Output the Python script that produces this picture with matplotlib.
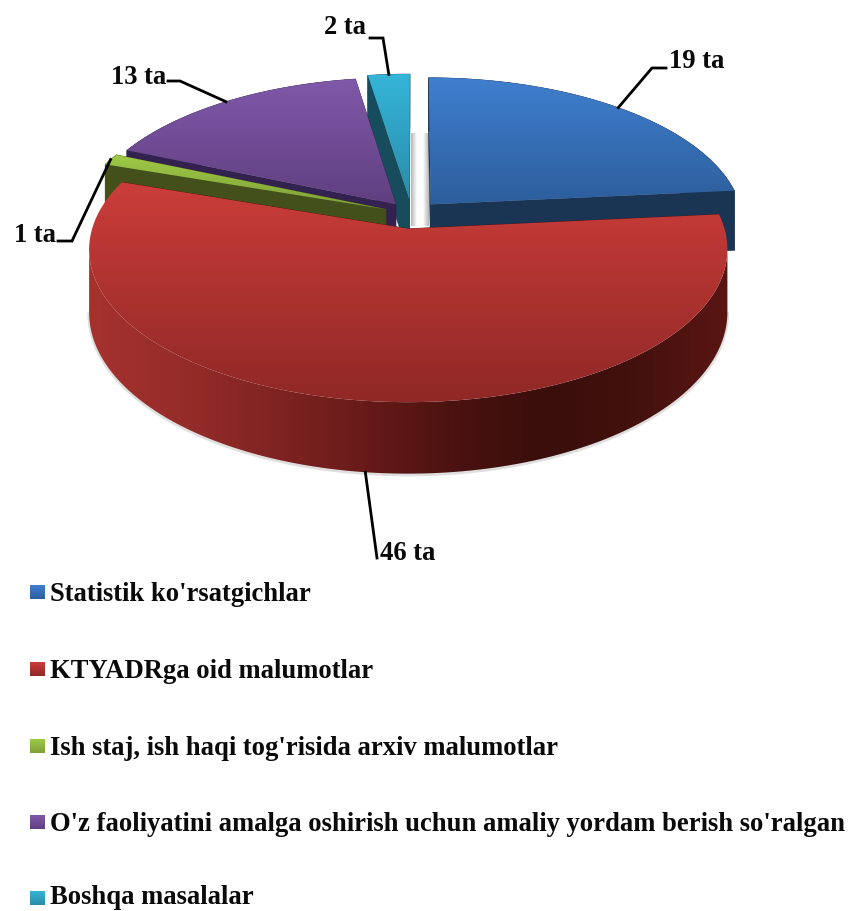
import numpy as np
import matplotlib
matplotlib.use("Agg")
import matplotlib.pyplot as plt
from matplotlib.patches import Polygon
from matplotlib.colors import LinearSegmentedColormap

# chart data
categories = ["Statistik ko'rsatgichlar", "KTYADRga oid malumotlar",
              "Ish staj, ish haqi tog'risida arxiv malumotlar",
              "O'z faoliyatini amalga oshirish uchun amaliy yordam berish so'ralgan",
              "Boshqa masalalar"]
values = [19, 46, 1, 13, 2]
value_labels = ["19 ta", "46 ta", "1 ta", "13 ta", "2 ta"]

# colours per slice
top_light = ["#3f7fcf", "#cb3d3a", "#9fca47", "#8059aa", "#35b5d9"]
top_dark = ["#2d5e9c", "#8f2826", "#7f9f38", "#5f3f80", "#2a8ca8"]
wall_col = ["#1a3454", "#4a1311", "#43501c", "#33214f", "#164c5c"]
red_rim = ["#a5322f", "#962c2a", "#802422", "#681b19", "#4a1210", "#3a0e0b", "#43110e", "#5a1613"]

# look of the 3d pie, in pixels
cx, cy = 412, 214
R, Rt = 312, 146
depth = 61
persp = 7.48
explode = [0.09, 0.1, 0.09, 0.085, 0.1]

# leader lines: elbow points and label position for each slice
leader_mid = [(652, 68), (377, 558), (72, 241), (180, 81), (383, 38)]
leader_end = [(666, 68), (377, 558), (58, 241), (168, 81), (370, 38)]
label_pos = [(669, 60), (380, 552), (14, 233), (111, 75), (324, 25)]

legend_y = [593, 670, 747, 823, 899]
legend_text_y = [594.5, 671.5, 748.5, 824.5, 898]

fig = plt.figure(figsize=(8.48, 9.11), dpi=100)
ax = fig.add_axes([0, 0, 1, 1])
ax.axis("off")

serif = {"family": "Liberation Serif", "weight": "bold", "color": "#0a0a0a"}
z = [1]


def next_z():
    z[0] += 1
    return z[0]


def project(ang, r, off, drop=0.0):
    # ang in degrees clockwise from 12 o'clock, disk x to the right and zz to the viewer
    a = np.radians(ang)
    x = r * np.sin(a) + off[0]
    zz = -r * np.cos(a) + off[1]
    s = persp / (persp - zz)
    return np.column_stack([cx + R * x * s, cy + Rt * zz * s + depth * drop * s])


def gradient_fill(pts, stops, horizontal=False):
    x0, y0 = pts.min(axis=0)
    x1, y1 = pts.max(axis=0)
    cmap = LinearSegmentedColormap.from_list("fill", stops)
    img = cmap(np.linspace(0, 1, 256))[:, :3]
    img = img[None, :, :] if horizontal else img[:, None, :]
    im = ax.imshow(img, extent=(x0, x1, y1, y0), aspect="auto", interpolation="bilinear", zorder=next_z())
    im.set_clip_path(Polygon(pts, closed=True, transform=ax.transData))


def flat(pts, col):
    ax.add_patch(Polygon(pts, closed=True, fc=col, ec=col, lw=0.4, zorder=next_z()))


total = sum(values)
edges = np.concatenate([[0], np.cumsum(values)]) * 360.0 / total
mids = (edges[:-1] + edges[1:]) / 2
offsets = [(e * np.sin(np.radians(m)), -e * np.cos(np.radians(m))) for e, m in zip(explode, mids)]

# soft shadow in the gap between the slices
gradient_fill(np.array([[411, 133], [417, 133], [417, 226], [411, 226]], float), ["#b5b5b5", "#ffffff"], True)
gradient_fill(np.array([[423, 133], [429, 133], [429, 226], [423, 226]], float), ["#ffffff", "#b5b5b5"], True)

# back slices first, the big red one goes on top
for i in [0, 4, 3, 2, 1]:
    off = offsets[i]
    angs = np.linspace(edges[i], edges[i + 1], 200)
    apex_t = project(0, 0, off)
    apex_b = project(0, 0, off, 1)
    rim_t = project(angs, 1, off)
    rim_b = project(angs, 1, off, 1)

    # rim wall, for the red slice only the part between its left and right extremes shows
    if i == 1:
        lo, hi = np.argmax(rim_t[:, 0]), np.argmin(rim_t[:, 0]) + 1
        rim_poly = np.vstack([rim_t[lo:hi], rim_b[lo:hi][::-1]])
        ax.plot(rim_b[lo:hi, 0], rim_b[lo:hi, 1] + 1, color="#808080", lw=2.5, alpha=0.25, zorder=next_z())
        gradient_fill(rim_poly, red_rim, True)
    else:
        flat(np.vstack([rim_t, rim_b[::-1]]), wall_col[i])

    # radial walls, the one closer to the viewer last
    faces = [(0, edges[i]), (-1, edges[i + 1])]
    faces.sort(key=lambda f: -np.cos(np.radians(f[1])))
    for idx, _ in faces:
        flat(np.array([apex_t[0], rim_t[idx], rim_b[idx], apex_b[0]]), wall_col[i])

    # top face
    top = np.vstack([apex_t, rim_t])
    gradient_fill(top, [top_light[i], top_dark[i]])

# leader lines and value labels
for i in range(len(values)):
    off = offsets[i]
    drop = 1 if i == 1 else 0
    start = project(mids[i], 1, off, drop)[0]
    ax.plot([start[0], leader_mid[i][0], leader_end[i][0]],
            [start[1], leader_mid[i][1], leader_end[i][1]],
            color="black", lw=2.0, solid_joinstyle="miter", zorder=next_z())
    ax.text(label_pos[i][0], label_pos[i][1] + 2, value_labels[i], fontsize=19.2, va="center", ha="left",
            zorder=next_z(), **serif)

# legend
for i, name in enumerate(categories):
    y = legend_y[i]
    box = np.array([[30, y - 8], [45, y - 8], [45, y + 6], [30, y + 6]], float)
    gradient_fill(box, [top_light[i], top_dark[i]])
    ax.text(50, legend_text_y[i], name, fontsize=19.2, va="center", ha="left", zorder=next_z(), **serif)

ax.set_xlim(0, 848)
ax.set_ylim(911, 0)
fig.savefig("out.png", dpi=100, facecolor="white")
